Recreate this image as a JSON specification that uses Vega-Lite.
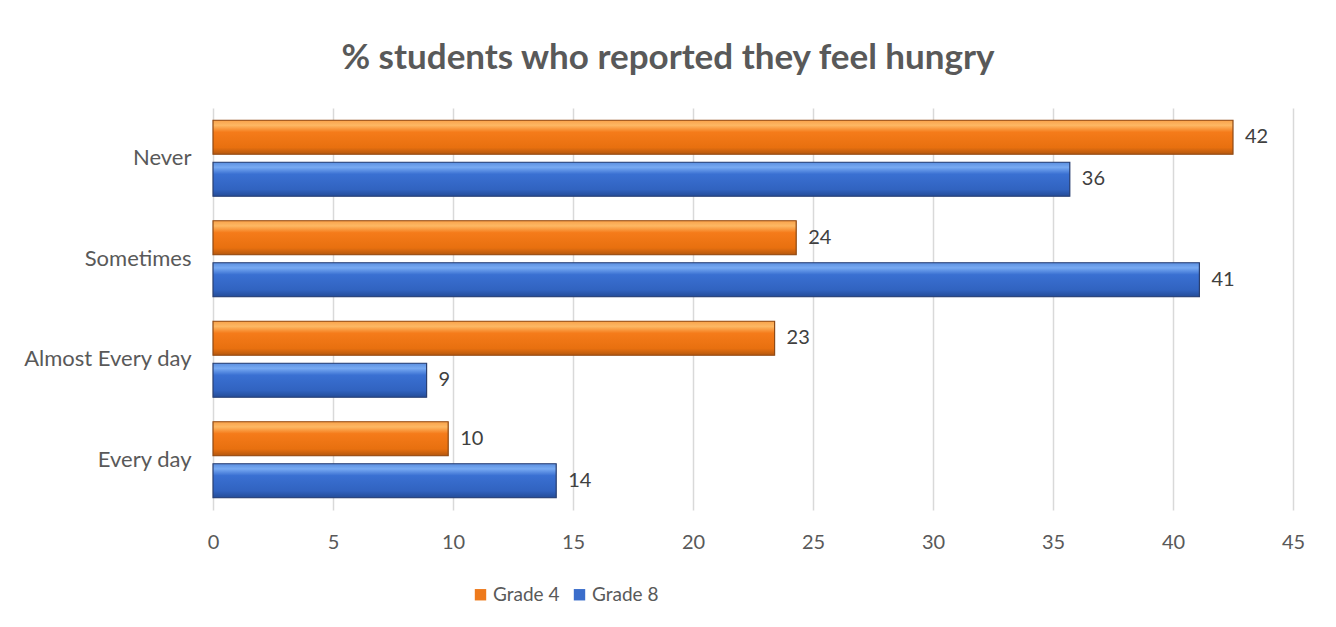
{
  "$schema": "https://vega.github.io/schema/vega-lite/v6.json",
  "autosize": {"type": "none"},
  "width": 1080,
  "height": 402,
  "padding": {"left": 213, "top": 108, "right": 43, "bottom": 117},
  "background": "white",
  "title": {
    "text": "% students who reported they feel hungry",
    "font": "Lato",
    "fontSize": 35,
    "fontWeight": "bold",
    "color": "#595959",
    "anchor": "middle",
    "dx": -85,
    "offset": 32
  },
  "data": {
    "values": [
      {"category": "Never", "grade": "Grade 4", "value": 42.5, "label": "42"},
      {"category": "Never", "grade": "Grade 8", "value": 35.7, "label": "36"},
      {"category": "Sometimes", "grade": "Grade 4", "value": 24.3, "label": "24"},
      {"category": "Sometimes", "grade": "Grade 8", "value": 41.1, "label": "41"},
      {"category": "Almost Every day", "grade": "Grade 4", "value": 23.4, "label": "23"},
      {"category": "Almost Every day", "grade": "Grade 8", "value": 8.9, "label": "9"},
      {"category": "Every day", "grade": "Grade 4", "value": 9.8, "label": "10"},
      {"category": "Every day", "grade": "Grade 8", "value": 14.3, "label": "14"}
    ]
  },
  "encoding": {
    "y": {
      "field": "category",
      "type": "nominal",
      "sort": ["Never", "Sometimes", "Almost Every day", "Every day"],
      "scale": {"paddingInner": 0.244, "paddingOuter": 0.122},
      "axis": {
        "title": null,
        "domain": false,
        "ticks": false,
        "labelPadding": 22,
        "labelFont": "Lato",
        "labelFontSize": 22,
        "labelColor": "#595959"
      }
    },
    "yOffset": {
      "field": "grade",
      "type": "nominal",
      "sort": ["Grade 4", "Grade 8"],
      "scale": {"paddingInner": 0.19, "paddingOuter": 0}
    },
    "x": {
      "field": "value",
      "type": "quantitative",
      "scale": {"domain": [0, 45], "nice": false},
      "axis": {
        "title": null,
        "values": [0, 5, 10, 15, 20, 25, 30, 35, 40, 45],
        "domain": false,
        "ticks": false,
        "grid": true,
        "gridColor": "#D9D9D9",
        "gridWidth": 1.5,
        "labelFlush": false,
        "labelPadding": 22,
        "labelFont": "Lato",
        "labelFontSize": 20,
        "labelColor": "#595959"
      }
    }
  },
  "layer": [
    {
      "mark": {"type": "bar"},
      "encoding": {
        "color": {
          "field": "grade",
          "type": "nominal",
          "scale": {"domain": ["Grade 4", "Grade 8"], "range": ["#EE7A1C", "#3A6DCB"]},
          "legend": {
            "title": null,
            "orient": "none",
            "direction": "horizontal",
            "legendX": 258,
            "legendY": 477,
            "symbolType": "square",
            "symbolSize": 130,
            "symbolStrokeWidth": 1,
            "labelFont": "Lato",
            "labelFontSize": 19,
            "labelColor": "#595959",
            "labelOffset": 3,
            "columnPadding": 10
          }
        }
      }
    },
    {
      "mark": {"type": "bar", "strokeWidth": 1.2},
      "encoding": {
        "fill": {
          "condition": {
            "test": "datum.grade === 'Grade 4'",
            "value": {"gradient": "linear", "x1": 0, "y1": 0, "x2": 0, "y2": 1, "stops": [
              {"offset": 0, "color": "#F9A24A"},
              {"offset": 0.15, "color": "#FDB864"},
              {"offset": 0.35, "color": "#F57B1A"},
              {"offset": 0.8, "color": "#E8700F"},
              {"offset": 1, "color": "#B4570E"}
            ]}
          },
          "value": {"gradient": "linear", "x1": 0, "y1": 0, "x2": 0, "y2": 1, "stops": [
            {"offset": 0, "color": "#5B8FE0"},
            {"offset": 0.15, "color": "#78AAF2"},
            {"offset": 0.35, "color": "#3A70D2"},
            {"offset": 0.8, "color": "#3163C0"},
            {"offset": 1, "color": "#244C98"}
          ]}
        },
        "stroke": {
          "condition": {"test": "datum.grade === 'Grade 4'", "value": "#8E4A16"},
          "value": "#2A3F70"
        }
      }
    },
    {
      "mark": {
        "type": "text",
        "align": "left",
        "baseline": "middle",
        "dx": 12,
        "font": "Lato",
        "fontSize": 20,
        "color": "#404040"
      },
      "encoding": {"text": {"field": "label"}}
    }
  ],
  "config": {"view": {"stroke": null}}
}
